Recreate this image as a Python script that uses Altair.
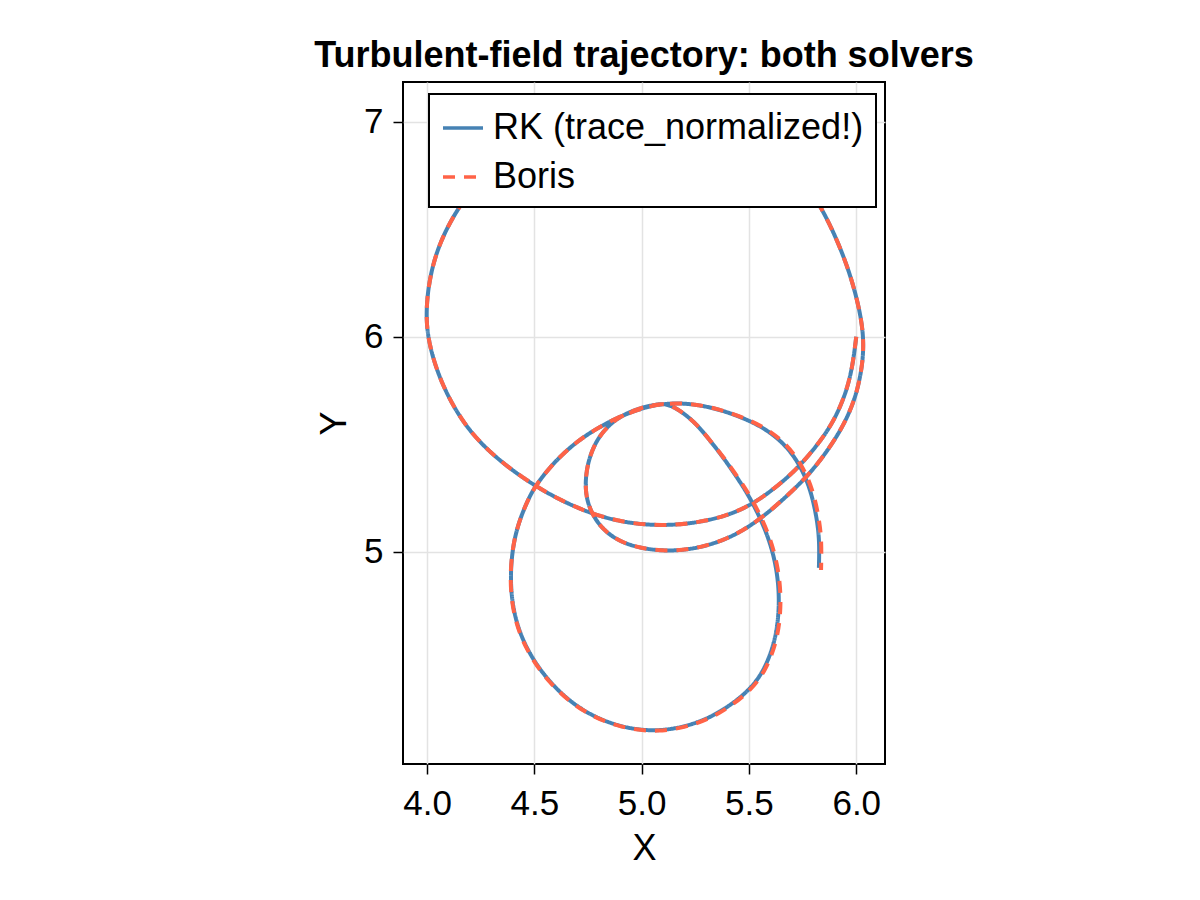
import altair as alt
import pandas as pd

# --- data ---
series_names = ["RK (trace_normalized!)", "Boris"]
series_colors = ["#4682B4", "#FF6347"]

rk_x = [6.000, 5.984, 5.953, 5.891, 5.813, 5.720, 5.611, 5.502, 5.390, 5.260,
        5.115, 4.959, 4.804, 4.649, 4.501, 4.338, 4.183, 4.070, 4.008, 3.990,
        4.027, 4.136, 4.300, 4.550, 4.850, 5.150, 5.450, 5.680, 5.790, 5.870,
        5.940, 5.990, 6.025, 6.036, 6.025, 5.995, 5.940, 5.870, 5.790, 5.700,
        5.600, 5.500, 5.400, 5.280, 5.153, 5.020, 4.905, 4.820, 4.765, 4.740,
        4.738, 4.752, 4.785, 4.835, 4.900, 4.980, 5.060, 5.115, 5.177, 5.254,
        5.320, 5.378, 5.445, 5.503, 5.580, 5.627, 5.645, 5.627, 5.565, 5.495,
        5.400, 5.270, 5.075, 4.882, 4.711, 4.571, 4.462, 4.400, 4.385, 4.408,
        4.462, 4.501, 4.586, 4.695, 4.804, 4.900, 5.021, 5.115, 5.224, 5.340,
        5.456, 5.575, 5.673, 5.740, 5.787, 5.815, 5.829, 5.826]
rk_y = [6.000, 5.868, 5.737, 5.597, 5.488, 5.380, 5.287, 5.212, 5.165, 5.135,
        5.121, 5.129, 5.163, 5.225, 5.306, 5.420, 5.570, 5.770, 5.960, 6.124,
        6.372, 6.597, 6.800, 6.950, 7.025, 7.035, 6.975, 6.830, 6.680, 6.540,
        6.380, 6.230, 6.080, 5.960, 5.840, 5.710, 5.585, 5.475, 5.370, 5.280,
        5.190, 5.115, 5.060, 5.020, 5.002, 5.010, 5.042, 5.100, 5.180, 5.260,
        5.340, 5.425, 5.510, 5.578, 5.630, 5.665, 5.684, 5.690, 5.659, 5.597,
        5.515, 5.442, 5.345, 5.256, 5.101, 4.946, 4.775, 4.589, 4.434, 4.350,
        4.275, 4.202, 4.158, 4.186, 4.264, 4.388, 4.543, 4.713, 4.900, 5.086,
        5.225, 5.302, 5.411, 5.512, 5.581, 5.630, 5.675, 5.690, 5.690, 5.668,
        5.630, 5.575, 5.495, 5.400, 5.290, 5.165, 5.054, 4.925]

boris_x = [6.000, 5.984, 5.953, 5.891, 5.813, 5.720, 5.611, 5.502, 5.390, 5.260,
           5.115, 4.959, 4.804, 4.649, 4.501, 4.338, 4.183, 4.070, 4.008, 3.990,
           4.027, 4.136, 4.300, 4.550, 4.850, 5.150, 5.450, 5.680, 5.790, 5.870,
           5.940, 5.990, 6.025, 6.036, 6.025, 5.995, 5.940, 5.870, 5.790, 5.700,
           5.600, 5.500, 5.400, 5.280, 5.153, 5.020, 4.905, 4.820, 4.765, 4.740,
           4.738, 4.752, 4.785, 4.835, 4.900, 4.980, 5.060, 5.115, 5.177, 5.254,
           5.321, 5.380, 5.449, 5.509, 5.587, 5.634, 5.653, 5.635, 5.572, 5.500,
           5.403, 5.271, 5.075, 4.881, 4.709, 4.568, 4.459, 4.398, 4.384, 4.408,
           4.462, 4.501, 4.586, 4.695, 4.804, 4.900, 5.021, 5.115, 5.224, 5.341,
           5.458, 5.580, 5.680, 5.749, 5.797, 5.825, 5.839, 5.836]
boris_y = [6.000, 5.868, 5.737, 5.597, 5.488, 5.380, 5.287, 5.212, 5.165, 5.135,
           5.121, 5.129, 5.163, 5.225, 5.306, 5.420, 5.570, 5.770, 5.960, 6.124,
           6.372, 6.597, 6.800, 6.950, 7.025, 7.035, 6.975, 6.830, 6.680, 6.540,
           6.380, 6.230, 6.080, 5.960, 5.840, 5.710, 5.585, 5.475, 5.370, 5.280,
           5.190, 5.115, 5.060, 5.020, 5.002, 5.010, 5.042, 5.100, 5.180, 5.260,
           5.340, 5.425, 5.510, 5.578, 5.630, 5.665, 5.684, 5.690, 5.659, 5.597,
           5.515, 5.442, 5.345, 5.256, 5.101, 4.946, 4.775, 4.589, 4.434, 4.348,
           4.272, 4.199, 4.156, 4.185, 4.263, 4.388, 4.543, 4.713, 4.900, 5.086,
           5.225, 5.302, 5.411, 5.512, 5.581, 5.630, 5.675, 5.690, 5.690, 5.669,
           5.631, 5.576, 5.496, 5.400, 5.290, 5.165, 5.054, 4.915]

x_ticks = [4.0, 4.5, 5.0, 5.5, 6.0]
y_ticks = [5, 6, 7]
x_domain = [3.888, 6.134]
y_domain = [4.0126, 7.1847]

rows = []
for i, (x, y) in enumerate(zip(rk_x, rk_y)):
    rows.append({"series": series_names[0], "idx": i, "x": x, "y": y})
for i, (x, y) in enumerate(zip(boris_x, boris_y)):
    rows.append({"series": series_names[1], "idx": i, "x": x, "y": y})
df = pd.DataFrame(rows)

FONT = "Liberation Sans"

color_scale = alt.Scale(domain=series_names, range=series_colors)
dash_scale = alt.Scale(domain=series_names, range=[[1, 0], [12, 9]])

base = alt.Chart(df).encode(
    x=alt.X("x:Q", scale=alt.Scale(domain=x_domain, nice=False, zero=False),
            axis=alt.Axis(values=x_ticks, format=".1f", title="X")),
    y=alt.Y("y:Q", scale=alt.Scale(domain=y_domain, nice=False, zero=False),
            axis=alt.Axis(values=y_ticks, format="d", title="Y")),
    order=alt.Order("idx:Q"),
    color=alt.Color("series:N", scale=color_scale, legend=alt.Legend(title=None)),
    strokeDash=alt.StrokeDash("series:N", scale=dash_scale, legend=alt.Legend(title=None)),
)

rk_layer = base.transform_filter(alt.datum.series == series_names[0]).mark_line(
    strokeWidth=4, interpolate="basis")
boris_layer = base.transform_filter(alt.datum.series == series_names[1]).mark_line(
    strokeWidth=4, interpolate="basis")

chart = alt.layer(rk_layer, boris_layer).properties(
    width=482,
    height=682,
    autosize=alt.AutoSizeParams(type="none"),
    padding={"left": 395, "top": 74, "right": 300, "bottom": 120},
    title=alt.TitleParams(
        "Turbulent-field trajectory: both solvers",
        font=FONT, fontSize=36, fontWeight="bold", color="black",
        anchor="middle", frame="group", offset=7,
    ),
).configure_view(
    stroke="black", strokeWidth=2,
).configure_axis(
    labelFont=FONT, labelFontSize=35, labelColor="black",
    titleFont=FONT, titleFontSize=36, titleFontWeight="normal", titleColor="black",
    domain=False, grid=True, gridColor="#e3e3e3", gridWidth=1.5,
    tickColor="black", tickSize=10, tickWidth=1.5,
).configure_axisX(
    labelPadding=12, titlePadding=10,
).configure_axisY(
    labelPadding=10, titlePadding=10,
).configure_legend(
    orient="none", legendX=26, legendY=12,
    symbolType="stroke", symbolSize=1600, symbolStrokeWidth=3.5,
    labelFont=FONT, labelFontSize=36, labelColor="black", labelOffset=8,
    labelLimit=0,
    padding=12, rowPadding=9,
    fillColor="white", strokeColor="black", strokeWidth=2,
)

chart.save("out.html", embed_options={"renderer": "svg", "actions": False})
